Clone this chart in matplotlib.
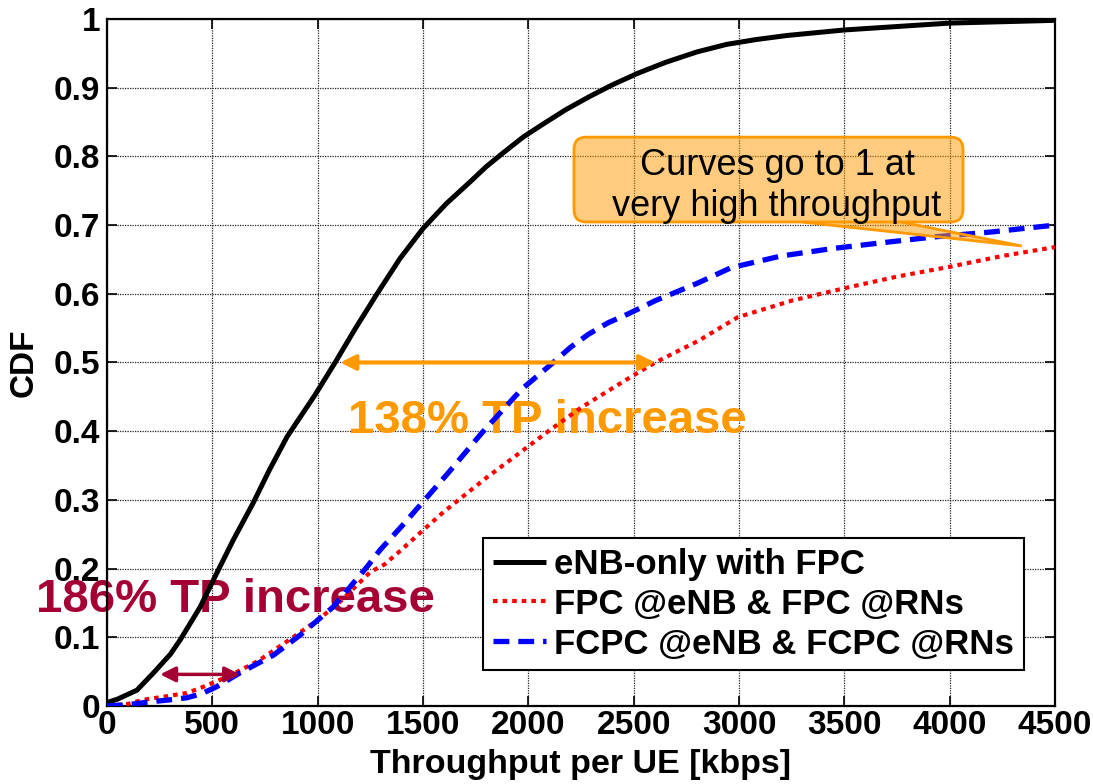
import matplotlib
matplotlib.use("Agg")
import matplotlib.pyplot as plt
from matplotlib.patches import FancyBboxPatch, Polygon

plt.rcParams['font.family'] = ['Liberation Sans', 'DejaVu Sans']

# ---------------- data ----------------
enb_x = [0, 50, 142, 220, 300, 347, 442, 522, 600, 693, 770, 855, 988, 1083, 1180,
         1282, 1390, 1500, 1610, 1724, 1800, 1880, 1975, 2080, 2178, 2290, 2398, 2520,
         2653, 2800, 2941, 3080, 3229, 3500, 3750, 4000, 4250, 4500]
enb_y = [0.005, 0.01, 0.023, 0.048, 0.075, 0.096, 0.144, 0.194, 0.242, 0.295, 0.343,
         0.392, 0.453, 0.5, 0.55, 0.6, 0.651, 0.695, 0.731, 0.763, 0.785, 0.805, 0.828,
         0.849, 0.868, 0.887, 0.904, 0.921, 0.937, 0.952, 0.963, 0.970, 0.976, 0.984,
         0.989, 0.994, 0.996, 0.998]

fpc_x = [0, 100, 171, 280, 380, 450, 536, 620, 720, 883, 1000, 1100, 1250, 1317, 1400,
         1508, 1600, 1698, 1800, 1905, 2095, 2254, 2492, 2603, 2810, 2995, 3250, 3528,
         3750, 3995, 4250, 4500]
fpc_y = [0.0, 0.003, 0.009, 0.014, 0.019, 0.027, 0.038, 0.05, 0.066, 0.1, 0.125, 0.15,
         0.195, 0.206, 0.228, 0.258, 0.283, 0.307, 0.332, 0.356, 0.4, 0.435, 0.48, 0.5,
         0.532, 0.566, 0.59, 0.61, 0.625, 0.639, 0.655, 0.668]

fcpc_x = [0, 100, 204, 300, 380, 450, 520, 630, 790, 916, 1073, 1233, 1296, 1400, 1508,
          1619, 1778, 1968, 2111, 2200, 2285, 2380, 2476, 2603, 2800, 2963, 3200, 3447,
          3700, 3935, 4200, 4500]
fcpc_y = [0.0, 0.002, 0.006, 0.009, 0.012, 0.018, 0.028, 0.048, 0.074, 0.103, 0.144,
          0.202, 0.227, 0.262, 0.3, 0.339, 0.397, 0.461, 0.498, 0.522, 0.541, 0.558,
          0.571, 0.59, 0.615, 0.638, 0.655, 0.666, 0.675, 0.683, 0.69, 0.70]

labels = ["eNB-only with FPC", "FPC @eNB & FPC @RNs", "FCPC @eNB & FCPC @RNs"]
x_ticks = [0, 500, 1000, 1500, 2000, 2500, 3000, 3500, 4000, 4500]
y_ticks = [0, 0.1, 0.2, 0.3, 0.4, 0.5, 0.6, 0.7, 0.8, 0.9, 1.0]
y_tick_labels = ["0", "0.1", "0.2", "0.3", "0.4", "0.5", "0.6", "0.7", "0.8", "0.9", "1"]

# annotation values
gain_high = "138% TP increase"
gain_low = "186% TP increase"
arrow_high = (1107, 2602, 0.5)
arrow_low = (252, 632, 0.046)

ORANGE = '#FF9900'
DARKRED = '#A50034'

# ---------------- figure ----------------
fig = plt.figure(figsize=(10.93, 7.84), dpi=100)
ax = fig.add_axes([0.0979, 0.0995, 0.8673, 0.8763])

ax.plot(enb_x, enb_y, color='black', lw=3.6, solid_capstyle='butt', label=labels[0], zorder=3)
ax.plot(fpc_x, fpc_y, color='red', lw=3.0, linestyle=(0, (1.1, 1.2)), label=labels[1], zorder=3)
ax.plot(fcpc_x, fcpc_y, color='blue', lw=3.8, linestyle=(0, (3.0, 1.7)), label=labels[2], zorder=3)

ax.set_xlim(0, 4500)
ax.set_ylim(0, 1)
ax.set_xticks(x_ticks)
ax.set_xticklabels([str(v) for v in x_ticks])
ax.set_yticks(y_ticks)
ax.set_yticklabels(y_tick_labels)
ax.tick_params(axis='both', direction='in', length=7, width=1.2, top=True, right=True,
               labelsize=24)
ax.tick_params(axis='x', pad=3)
ax.tick_params(axis='y', pad=5)
for lab in ax.get_xticklabels() + ax.get_yticklabels():
    lab.set_fontweight('bold')
for sp in ax.spines.values():
    sp.set_linewidth(1.6)
ax.grid(True, color='#222222', linestyle=(0, (1, 1)), linewidth=0.9, zorder=0)
ax.set_axisbelow(True)

ax.set_xlabel("Throughput per UE [kbps]", fontsize=24.5, fontweight='bold', labelpad=6)
ax.set_ylabel("CDF", fontsize=24, fontweight='bold', labelpad=10)

# gain annotations (text behind the curves)
ax.text(2092, 0.397, gain_high, color=ORANGE, fontsize=34, fontweight='bold',
        ha='center', va='baseline', zorder=1.5)
ax.text(612, 0.137, gain_low, color=DARKRED, fontsize=34, fontweight='bold',
        ha='center', va='baseline', zorder=1.5)

ax.annotate('', xy=(arrow_high[0], arrow_high[2]), xytext=(arrow_high[1], arrow_high[2]),
            arrowprops=dict(arrowstyle='<|-|>,head_length=0.9,head_width=0.45',
                            color=ORANGE, lw=3, shrinkA=0, shrinkB=0), zorder=4)
ax.annotate('', xy=(arrow_low[0], arrow_low[2]), xytext=(arrow_low[1], arrow_low[2]),
            arrowprops=dict(arrowstyle='<|-|>,head_length=0.9,head_width=0.45',
                            color=DARKRED, lw=2.5, shrinkA=0, shrinkB=0), zorder=4)

# callout box
fill = (1.0, 0.6, 0.0, 0.5)
aspect = 948 / 687
box = FancyBboxPatch((0.4926, 0.7045), 0.903 - 0.4926, 0.828 - 0.7045,
                     boxstyle='round,pad=0,rounding_size=0.013', mutation_aspect=aspect,
                     transform=ax.transAxes, fc=fill, ec=ORANGE, lw=2, zorder=5)
ax.add_patch(box)
pointer = Polygon([(0.733, 0.7045), (0.965, 0.6696), (0.8376, 0.7045)], closed=False,
                  transform=ax.transAxes, fc=fill, ec=ORANGE, lw=2, zorder=5)
ax.add_patch(pointer)
ax.text(0.7068, 0.7729, "Curves go to 1 at", transform=ax.transAxes, fontsize=26,
        ha='center', va='baseline', zorder=6)
ax.text(0.7068, 0.7132, "very high throughput", transform=ax.transAxes, fontsize=26,
        ha='center', va='baseline', zorder=6)

leg = ax.legend(loc='lower right', bbox_to_anchor=(0.967, 0.052), bbox_transform=ax.transAxes,
                borderaxespad=0, fancybox=False, framealpha=1, edgecolor='black',
                prop={'size': 25, 'weight': 'bold'}, handlelength=1.55, handletextpad=0.22,
                labelspacing=0.2, borderpad=0.28)
leg.get_frame().set_linewidth(1.5)
leg.set_zorder(7)

fig.savefig("out.png", dpi=100)
